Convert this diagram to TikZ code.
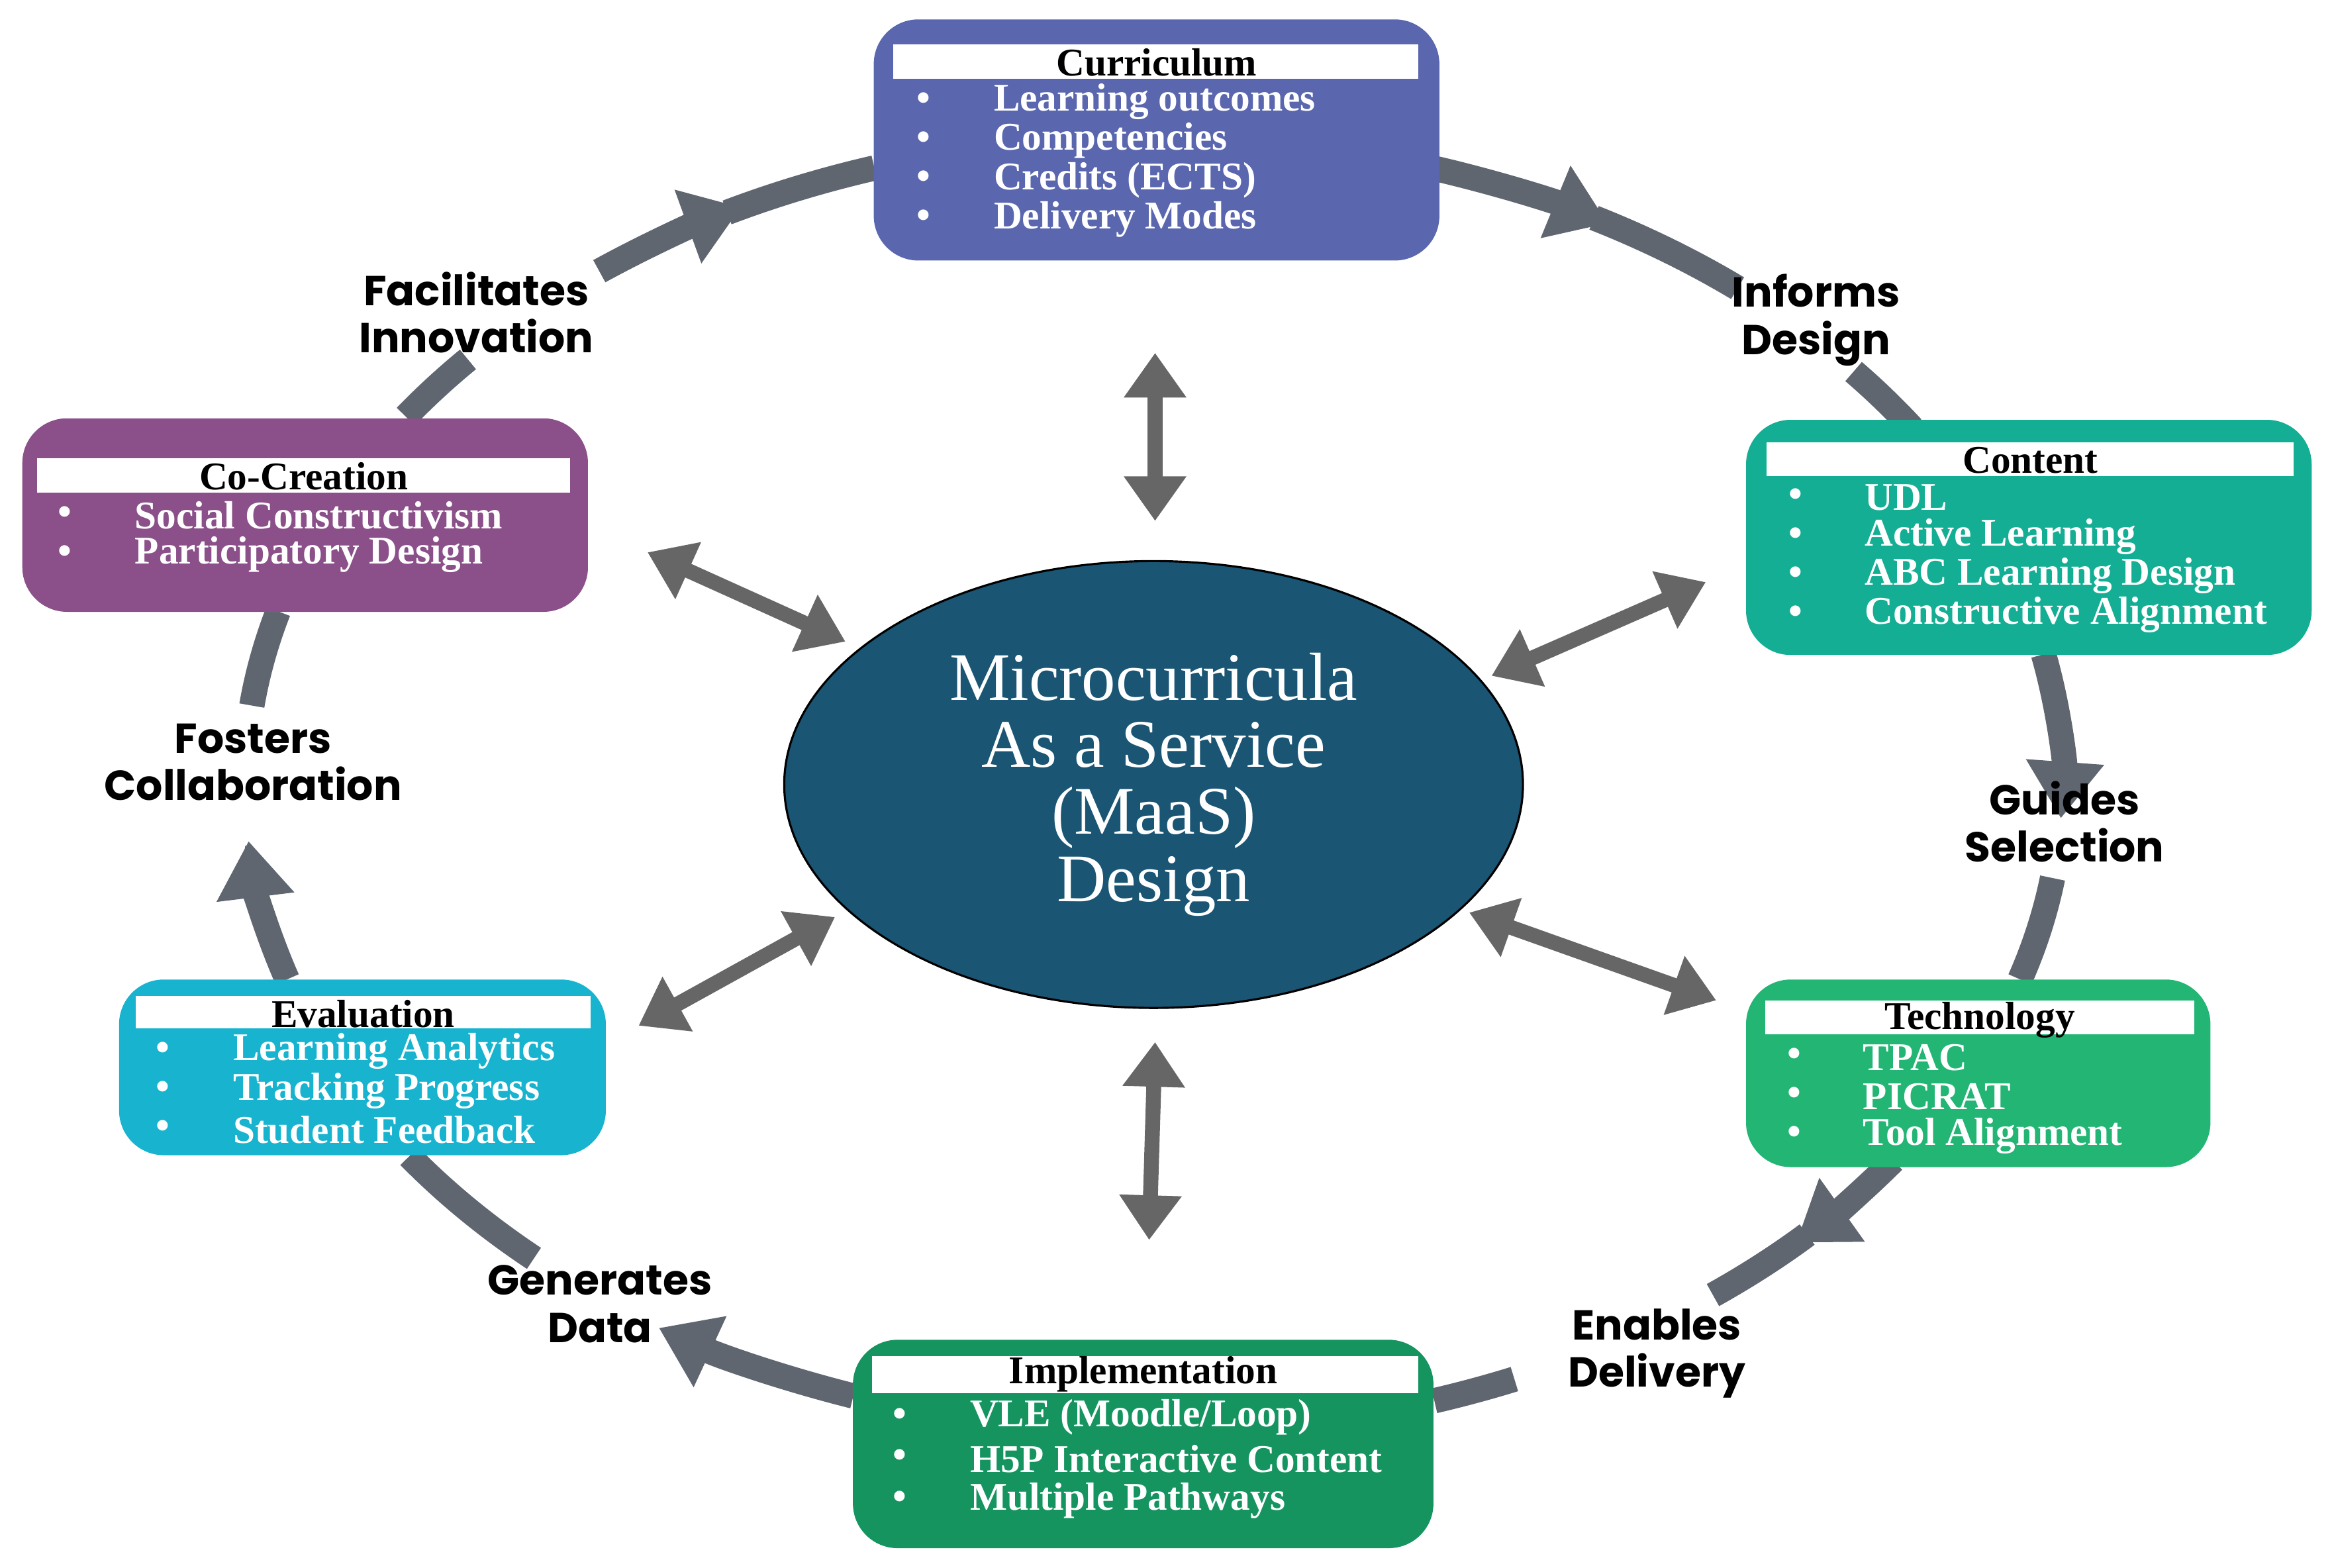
\documentclass[tikz,border=0pt]{standalone}
\usepackage{fontspec}
\setmainfont{Liberation Serif}
\newfontfamily\lblfont{Poppins}
\usetikzlibrary{arrows.meta,shapes.geometric}
\definecolor{curcol}{HTML}{5A67AE}
\definecolor{concol}{HTML}{14AE94}
\definecolor{teccol}{HTML}{22B573}
\definecolor{impcol}{HTML}{159460}
\definecolor{evacol}{HTML}{17B3CF}
\definecolor{cocol}{HTML}{8B5089}
\definecolor{maascol}{HTML}{1B5574}
\definecolor{ringcol}{HTML}{5F6670}
\definecolor{dblcol}{HTML}{666666}
\tikzset{
  ring/.style={draw=ringcol, line width=0.17cm},
  ringtip/.style={ring, -{Triangle[width=0.5cm,length=0.38cm]}},
  dbl/.style={draw=dblcol, line width=0.1cm, {Triangle[width=0.4cm,length=0.3cm]}-{Triangle[width=0.4cm,length=0.3cm]}},
  boxtitle/.style={font=\bfseries\fontsize{7.5}{8}\selectfont, text=black, inner sep=0pt},
  boxitem/.style={font=\bfseries\fontsize{7.5}{8}\selectfont, text=white, anchor=west, inner sep=0pt},
  lbl/.style={font=\lblfont\bfseries\fontsize{8}{9}\selectfont, align=center}
}
% ring segment: start angle, end angle, style
\newcommand\ringarc[3]{\draw[#3] ([shift={(#1:6.1cm and 4.35cm)}]C) arc[start angle=#1, end angle=#2, x radius=6.1cm, y radius=4.35cm];}
\begin{document}
\begin{tikzpicture}[x=0.01cm, y=-0.01cm]
    \useasboundingbox (0,0) rectangle (1568,1053);
    \coordinate (C) at (775,527);

    % Ring arrows
    \ringarc{127.6}{117}{ringtip}
    \ringarc{118}{107.9}{ring}
    \ringarc{72}{60}{ringtip}
    \ringarc{61}{50}{ring}
    \ringarc{39.6}{33.4}{ring}
    \ringarc{11.6}{-3}{ringtip}
    \ringarc{-8.3}{-17.5}{ring}
    \ringarc{-35.5}{-45}{ringtip}
    \ringarc{-44}{-52}{ring}
    \ringarc{-66.6}{-72}{ring}
    \ringarc{-109.3}{-123}{ringtip}
    \ringarc{-133}{-145}{ring}
    \ringarc{-162.5}{-175}{ringtip}
    \ringarc{173}{164.5}{ring}
    \ringarc{145.4}{139}{ring}

    % Centre
    \node[ellipse, draw=black, fill=maascol, minimum width=4.96cm, minimum height=3cm, text=white,
      align=center, font=\fontsize{13}{12.8}\selectfont] (maas) at (C) {Microcurricula\\As a Service\\(MaaS)\\Design};

    % Double arrows
    \coordinate (t1) at (776,237); \coordinate (t2) at (776,350);
    \coordinate (b1) at (776,700); \coordinate (b2) at (772,833);
    \coordinate (ul1) at (435,371); \coordinate (ul2) at (568,431);
    \coordinate (ur1) at (1146,391); \coordinate (ur2) at (1002,454);
    \coordinate (ll1) at (429,689); \coordinate (ll2) at (561,616);
    \coordinate (lr1) at (987,613); \coordinate (lr2) at (1153,672);
    \foreach \p in {t,b,ul,ur,ll,lr} \draw[dbl] (\p1) -- (\p2);

    % Curriculum
    \fill[curcol, rounded corners=0.3cm] (587,13) rectangle (967,175);
    \fill[white] (600,30) rectangle (953,53);
    \node[boxtitle] (curt) at (777,42) {Curriculum};
    \foreach \t [count=\i] in {Learning outcomes, Competencies, Credits (ECTS), Delivery Modes} {
      \node[boxitem] at (615,42+26.3*\i) {\textbullet};
      \node[boxitem] at (667,42+26.3*\i) {\t};
    }

    % Content
    \fill[concol, rounded corners=0.3cm] (1173,282) rectangle (1553,440);
    \fill[white] (1187,297) rectangle (1541,320);
    \node[boxtitle] (cont) at (1364,309) {Content};
    \foreach \t [count=\i] in {UDL, Active Learning, ABC Learning Design, Constructive Alignment} {
      \node[boxitem] at (1201,308+26.3*\i) {\textbullet};
      \node[boxitem] at (1252,308+26.3*\i) {\t};
    }

    % Technology
    \fill[teccol, rounded corners=0.3cm] (1173,658) rectangle (1485,784);
    \fill[white] (1186,672) rectangle (1474,695);
    \node[boxtitle] (tect) at (1330,685) {Technology};
    \foreach \t [count=\i] in {TPAC, PICRAT, Tool Alignment} {
      \node[boxitem] at (1200,684+26.3*\i) {\textbullet};
      \node[boxitem] at (1251,684+26.3*\i) {\t};
    }

    % Implementation
    \fill[impcol, rounded corners=0.3cm] (573,900) rectangle (963,1040);
    \fill[white] (586,911) rectangle (953,936);
    \node[boxtitle] (impt) at (768,923) {Implementation};
    \foreach \t [count=\i] in {VLE (Moodle/Loop), H5P Interactive Content, Multiple Pathways} {
      \node[boxitem] at (599,924+28*\i) {\textbullet};
      \node[boxitem] at (651,924+28*\i) {\t};
    }

    % Evaluation
    \fill[evacol, rounded corners=0.3cm] (80,658) rectangle (407,776);
    \fill[white] (91,669) rectangle (397,691);
    \node[boxtitle] (evat) at (244,681) {Evaluation};
    \foreach \t [count=\i] in {Learning Analytics, Tracking Progress, Student Feedback} {
      \node[boxitem] at (104,680+26.3*\i) {\textbullet};
      \node[boxitem] at (156,680+26.3*\i) {\t};
    }

    % Co-Creation
    \fill[cocol, rounded corners=0.3cm] (15,281) rectangle (395,411);
    \fill[white] (25,308) rectangle (383,331);
    \node[boxtitle] (cot) at (204,320) {Co-Creation};
    \foreach \t [count=\i] in {Social Constructivism, Participatory Design} {
      \node[boxitem] at (38,320+26.3*\i) {\textbullet};
      \node[boxitem] at (90,320+26.3*\i) {\t};
    }

    % Labels
    \node[lbl] (fac) at (320,210) {Facilitates\\Innovation};
    \node[lbl] (inf) at (1220,215) {Informs\\Design};
    \node[lbl] (gui) at (1387,552) {Guides\\Selection};
    \node[lbl] (ena) at (1113,909) {Enables\\Delivery};
    \node[lbl] (gen) at (403,876) {Generates\\Data};
    \node[lbl] (fos) at (170,512) {Fosters\\Collaboration};
\end{tikzpicture}
\end{document}
